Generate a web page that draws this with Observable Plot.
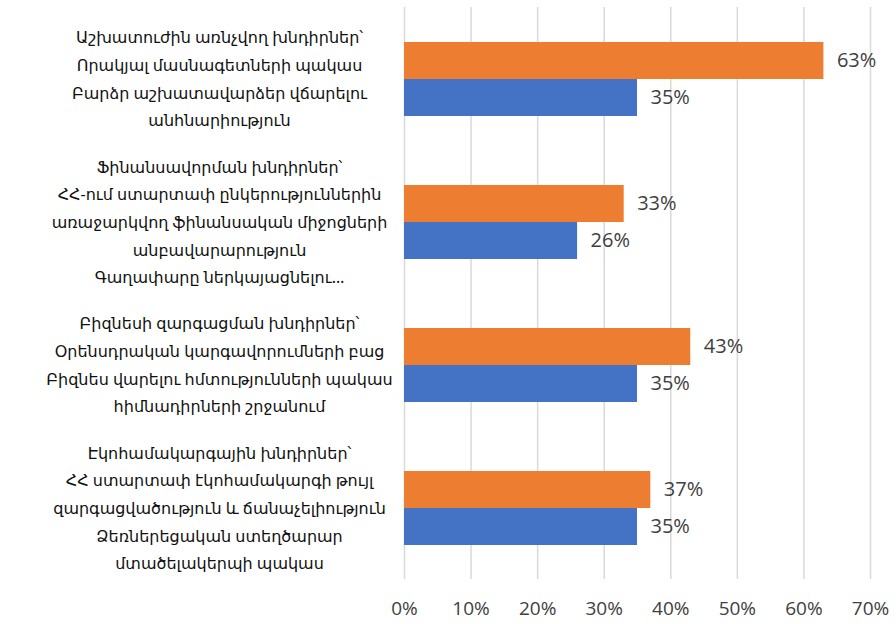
<!DOCTYPE html>
<html>
<head>
<meta charset="utf-8">
<script src="https://cdn.jsdelivr.net/npm/d3@7"></script>
<script src="https://cdn.jsdelivr.net/npm/@observablehq/plot@0.6"></script>
<style>
  html, body { margin: 0; padding: 0; background: #fff; }
  #chart { width: 896px; height: 624px; }
</style>
</head>
<body>
<div id="chart"></div>
<script>
const categories = ["c1", "c2", "c3", "c4"];
const categoryLabels = [
  "Աշխատուժին առնչվող խնդիրներ՝\nՈրակյալ մասնագետների պակաս\nԲարձր աշխատավարձեր վճարելու\nանհնարիություն",
  "Ֆինանսավորման խնդիրներ՝\nՀՀ-ում ստարտափ ընկերություններին\nառաջարկվող ֆինանսական միջոցների\nանբավարարություն\nԳաղափարը ներկայացնելու…",
  "Բիզնեսի զարգացման խնդիրներ՝\nՕրենսդրական կարգավորումների բաց\nԲիզնես վարելու հմտությունների պակաս\nհիմնադիրների շրջանում",
  "Էկոհամակարգային խնդիրներ՝\nՀՀ ստարտափ էկոհամակարգի թույլ\nզարգացվածություն և ճանաչելիություն\nՁեռներեցական ստեղծարար\nմտածելակերպի պակաս"
];
const seriesNames = ["Series 1", "Series 2"];
const series1Values = [63, 33, 43, 37];
const series2Values = [35, 26, 35, 35];
const seriesColors = ["#ED7D31", "#4472C4"];
const xTicks = [0, 10, 20, 30, 40, 50, 60, 70];

const rows = [];
categories.forEach((c, i) => {
  rows.push({cat: c, series: seriesNames[0], value: series1Values[i]});
  rows.push({cat: c, series: seriesNames[1], value: series2Values[i]});
});
const labelRows = categories.map((c, i) => ({cat: c, label: categoryLabels[i]}));

const font = "'Noto Sans', 'DejaVu Sans', sans-serif";

const chart = Plot.plot({
  width: 896,
  height: 624,
  marginLeft: 404,
  marginRight: 26,
  marginTop: 5,
  marginBottom: 44,
  style: {fontFamily: font, fontSize: "18px", color: "#404040", background: "#fff"},
  x: {domain: [0, 70], ticks: xTicks, tickFormat: d => d + "%", label: null},
  fy: {domain: categories, padding: 0, axis: null, label: null},
  y: {domain: seriesNames, paddingInner: 0, paddingOuter: 0.913, axis: null, label: null},
  color: {domain: seriesNames, range: seriesColors},
  marks: [
    Plot.ruleX(xTicks, {x: d => d, stroke: "#d9d9d9", strokeWidth: 1.5, strokeOpacity: 1}),
    Plot.barX(rows, {fy: "cat", y: "series", x: "value", fill: "series"}),
    Plot.text(rows, {fy: "cat", y: "series", x: "value", text: d => d.value + "%", textAnchor: "start", dx: 13, fill: "#404040", fontSize: 20, fontFamily: "'Open Sans', sans-serif"}),
    Plot.text(labelRows, {fy: "cat", text: "label", frameAnchor: "left", dx: -185, dy: -3, textAnchor: "middle", lineAnchor: "middle", lineHeight: 1.73, fontSize: 16, fill: "#111"}),
    Plot.axisX({ticks: xTicks, tickFormat: d => d + "%", tickSize: 0, tickPadding: 22, fontSize: 19, fontFamily: "'Open Sans', sans-serif", fill: "#404040", label: null})
  ]
});
document.getElementById("chart").appendChild(chart);
</script>
</body>
</html>
